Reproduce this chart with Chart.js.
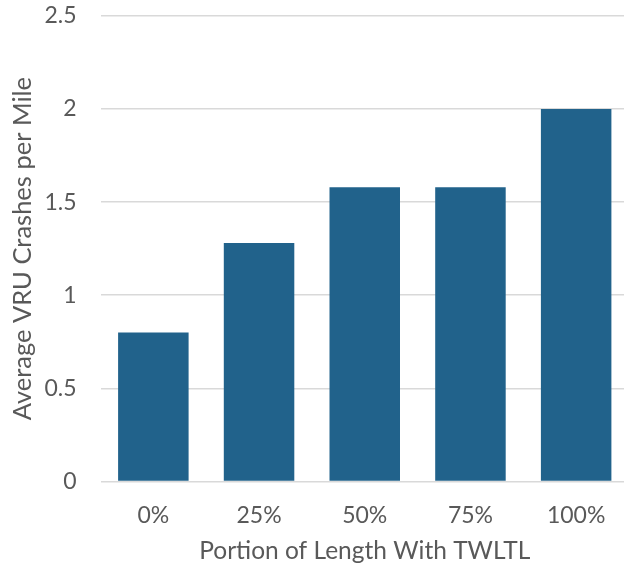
<!DOCTYPE html>
<html>
<head>
<meta charset="utf-8">
<script src="https://cdn.jsdelivr.net/npm/chart.js@4/dist/chart.umd.min.js"></script>
<style>
  html, body { margin: 0; padding: 0; background: #fff; overflow: hidden; }
  #wrap { width: 632px; height: 591px; position: relative; margin-top: -22px; }
</style>
</head>
<body>
<div id="wrap"><canvas id="myChart" width="632" height="591"></canvas></div>
<script>
const categories = ["0%", "25%", "50%", "75%", "100%"];
const crashValues = [0.8, 1.28, 1.58, 1.58, 2.0];
const yTicks = [0, 0.5, 1, 1.5, 2, 2.5];

const textColor = "#595959";
const fontFamily = "Lato, 'Open Sans', sans-serif";

const ctx = document.getElementById("myChart").getContext("2d");
const myChart = new Chart(ctx, {
  type: "bar",
  data: {
    labels: categories,
    datasets: [
      {
        label: "Average VRU Crashes per Mile",
        data: crashValues,
        backgroundColor: "#21628b",
        borderWidth: 0,
        barPercentage: 0.667,
        categoryPercentage: 1.0,
      },
    ],
  },
  options: {
    responsive: false,
    animation: false,
    layout: { padding: { top: 0, right: 3, bottom: 0, left: 0 } },
    plugins: {
      legend: { display: false },
      tooltip: { enabled: false },
    },
    scales: {
      x: {
        afterFit: (axis) => { axis.height = 87.5; },
        grid: { display: false },
        border: { display: false },
        ticks: { color: textColor, font: { family: fontFamily, size: 23 }, padding: 12 },
        title: {
          display: true,
          text: "Portion of Length With TWLTL",
          color: textColor,
          font: { family: fontFamily, size: 24.5 },
          padding: { top: 0, bottom: 3 },
        },
      },
      y: {
        min: 0,
        max: 2.5,
        afterFit: (axis) => { axis.width = 100.5; },
        afterBuildTicks: (axis) => {
          axis.ticks = yTicks.map((v) => ({ value: v }));
        },
        grid: { color: "#d9d9d9", lineWidth: 1.5, drawTicks: false },
        border: { display: false },
        ticks: {
          color: textColor,
          font: { family: fontFamily, size: 23 },
          padding: 24,
          callback: (v) => String(v),
        },
        title: {
          display: true,
          text: "Average VRU Crashes per Mile",
          color: textColor,
          font: { family: fontFamily, size: 25.5 },
          padding: { top: 7, bottom: 0 },
        },
      },
    },
  },
});
</script>
</body>
</html>
